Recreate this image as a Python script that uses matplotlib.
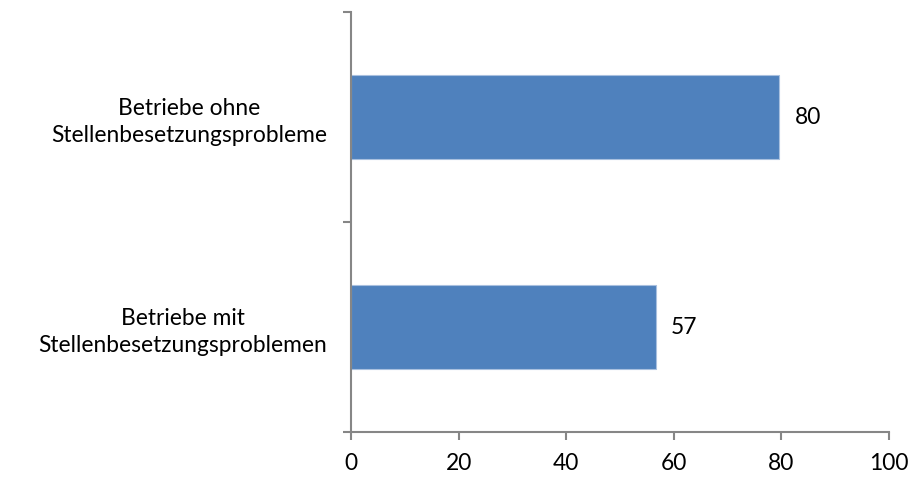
import matplotlib.pyplot as plt

# share of firms (percent), bottom category first
categories = ["Betriebe mit\nStellenbesetzungsproblemen", "Betriebe ohne\nStellenbesetzungsprobleme"]
values = [56.6, 79.6]
x_ticks = [0, 20, 40, 60, 80, 100]

plt.rcParams['font.family'] = ['Lato', 'DejaVu Sans']
axis_grey = '#868686'
fs = 16.4

fig = plt.figure(figsize=(9.12, 4.8), dpi=100)
ax = fig.add_axes([351 / 912, 1 - 432 / 480, 538 / 912, 420 / 480])

pos = list(range(len(categories)))
bars = ax.barh(pos, values, height=0.4, color='#4F81BD', edgecolor='#A9C0DF', linewidth=0.8)

for bar, v in zip(bars, values):
    ax.annotate(f"{v:.0f}", xy=(bar.get_width(), bar.get_y() + bar.get_height() / 2),
                xytext=(11, 0), textcoords='offset points', va='center', ha='left', fontsize=fs)

ax.set_xlim(0, 100)
ax.set_ylim(-0.5, len(categories) - 0.5)
ax.set_xticks(x_ticks)
ax.set_xticklabels([str(t) for t in x_ticks], fontsize=fs)

# category labels sit between the boundary ticks
ax.set_yticks([p - 0.5 for p in range(len(categories) + 1)])
ax.set_yticklabels([])
ax.set_yticks(pos, minor=True)
ax.set_yticklabels(categories, minor=True, fontsize=fs, multialignment='center', linespacing=1.35)
ax.tick_params(axis='y', which='minor', length=0, pad=17)

for side in ['top', 'right']:
    ax.spines[side].set_visible(False)
for side in ['left', 'bottom']:
    ax.spines[side].set_color(axis_grey)
    ax.spines[side].set_linewidth(1.5)
ax.tick_params(axis='both', which='major', color=axis_grey, width=1.5, length=6, direction='out')
ax.tick_params(axis='x', pad=9)

fig.savefig('out.png', dpi=100)
